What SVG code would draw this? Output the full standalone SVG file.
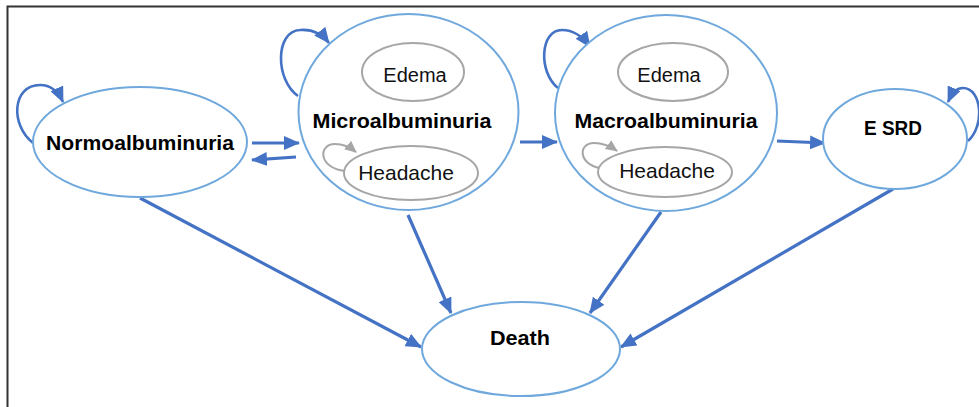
<svg xmlns="http://www.w3.org/2000/svg" width="979" height="407" viewBox="0 0 979 407">
<style>
.state{fill:#fff;stroke:#6fa8dc;stroke-width:2}
.sub{fill:#fff;stroke:#a6a6a6;stroke-width:2}
.b{font-family:"Liberation Sans",Arial,sans-serif;font-weight:bold;font-size:21px;fill:#000;text-anchor:middle}
.r{font-family:"Liberation Sans",Arial,sans-serif;font-size:20px;fill:#111;text-anchor:middle}
.edge{fill:none;stroke:#4472c4;stroke-width:3.2;marker-end:url(#ah)}
.loop{fill:none;stroke:#4472c4;stroke-width:2.6;marker-end:url(#ah)}
.gedge{fill:none;stroke:#a6a6a6;stroke-width:2;marker-end:url(#gah)}
</style>
<defs>
<marker id="ah" markerUnits="userSpaceOnUse" markerWidth="16" markerHeight="14" refX="15" refY="7" orient="auto">
<path d="M0,0 L16,7 L0,14 Z" fill="#4472c4"/>
</marker>
<marker id="gah" markerUnits="userSpaceOnUse" markerWidth="12" markerHeight="11" refX="11" refY="5.5" orient="auto">
<path d="M0,0 L12,5.5 L0,11 Z" fill="#a6a6a6"/>
</marker>
</defs>
<rect width="979" height="407" fill="#fff"/>
<path d="M7.5,407 V6.5 H979" fill="none" stroke="#333" stroke-width="2"/>

<g id="connectors">
<path class="edge" d="M252,143 L299,143"/>
<path class="edge" d="M296,157 L252,160"/>
<path class="edge" d="M520,142 L557,142"/>
<path class="edge" d="M777,141 L825,143"/>
<path class="edge" d="M140,198 L421,347"/>
<path class="edge" d="M408,215 L451,313"/>
<path class="edge" d="M661,212 L590,313"/>
<path class="edge" d="M893,189 L621,347"/>
<path class="loop" d="M33,143 C10,125 12,85 40,85 C51,85 58,91 63,102"/>
<path class="loop" d="M298,96 C275,80 275,31 300,30 C312,29 322,34 329,43"/>
<path class="loop" d="M558,88 C538,72 540,30 562,30 C574,30 583,37 590,47"/>
<path class="loop" d="M968,141 C985,126 982,88 963,88 C956,88 952,93 948,102"/>
</g>

<g id="normoalbuminuria">
<ellipse class="state" cx="140" cy="142" rx="107" ry="55"/>
<text class="b" x="140" y="150" textLength="188" lengthAdjust="spacingAndGlyphs">Normoalbuminuria</text>
</g>

<g id="microalbuminuria">
<ellipse class="state" cx="408.5" cy="112" rx="110" ry="98"/>
<ellipse class="sub" cx="413" cy="72" rx="51" ry="29"/>
<text class="r" x="415" y="82">Edema</text>
<text class="b" x="402" y="128" textLength="179" lengthAdjust="spacingAndGlyphs">Microalbuminuria</text>
<path class="gedge" d="M345,171 C318,168 318,144 335,144 C344,144 350,147 356,152"/>
<ellipse class="sub" cx="411" cy="173" rx="67" ry="27"/>
<text class="r" x="406" y="180" style="font-size:21px">Headache</text>
</g>

<g id="macroalbuminuria">
<ellipse class="state" cx="666" cy="113" rx="111" ry="98"/>
<ellipse class="sub" cx="673" cy="72" rx="55" ry="29"/>
<text class="r" x="669" y="82">Edema</text>
<text class="b" x="666" y="128" textLength="183" lengthAdjust="spacingAndGlyphs">Macroalbuminuria</text>
<path class="gedge" d="M600,168 C578,164 578,143 594,143 C603,143 610,146 617,151"/>
<ellipse class="sub" cx="665" cy="172" rx="67" ry="25"/>
<text class="r" x="667" y="178" style="font-size:21px">Headache</text>
</g>

<g id="esrd">
<ellipse class="state" cx="895" cy="139" rx="72" ry="50"/>
<text class="b" x="893" y="135" textLength="58" lengthAdjust="spacingAndGlyphs">E SRD</text>
</g>

<g id="death">
<ellipse class="state" cx="521" cy="349" rx="99" ry="47"/>
<text class="b" x="520" y="345" textLength="60" lengthAdjust="spacingAndGlyphs">Death</text>
</g>
</svg>
